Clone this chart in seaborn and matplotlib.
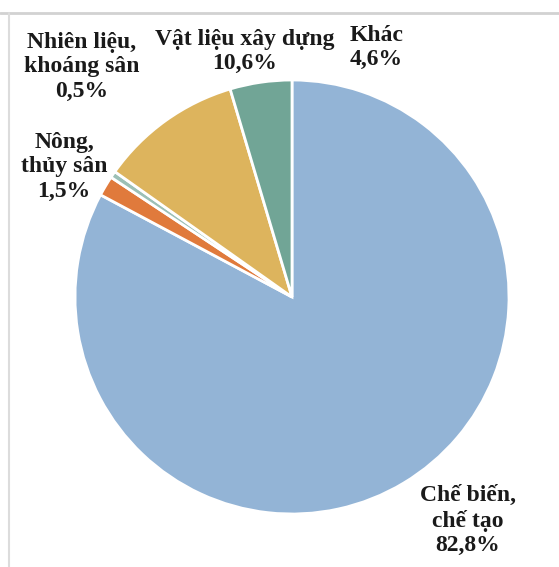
import matplotlib
matplotlib.use("Agg")
import matplotlib.pyplot as plt
from matplotlib.lines import Line2D
import seaborn as sns

# Cơ cấu theo ngành (%)
categories = ["Chế biến,\nchế tạo", "Nông,\nthủy sân", "Nhiên liệu,\nkhoáng sân",
              "Vật liệu xây dựng", "Khác"]
shares = [82.8, 1.5, 0.5, 10.6, 4.6]
colors = ["#93B4D6", "#E07A3C", "#9CC0B6", "#DDB45D", "#71A596"]

# Label anchor points (data units of the pie axes)
label_pos = [(0.81, -1.03), (-1.05, 0.60), (-0.97, 1.06), (-0.22, 1.13), (0.39, 1.15)]

sns.set_theme(style="white")
plt.rcParams["font.family"] = ["Liberation Serif", "DejaVu Serif"]

W, H = 559, 567
fig = plt.figure(figsize=(W / 100, H / 100), dpi=100)
fig.patch.set_facecolor("white")

cx, cy, r = 292, 297, 217
ax = fig.add_axes([(cx - r) / W, (H - cy - r) / H, 2 * r / W, 2 * r / H])

wedges, _ = ax.pie(shares, colors=colors, startangle=90, counterclock=False,
                   radius=1.0, wedgeprops=dict(edgecolor="white", linewidth=2.0))
for w in wedges:
    w.set_clip_on(False)
ax.set_xlim(-1, 1)
ax.set_ylim(-1, 1)
ax.set_aspect("auto")
ax.axis("off")

for name, val, (x, y) in zip(categories, shares, label_pos):
    txt = f"{name}\n{val:.1f}%".replace(".", ",")
    ax.text(x, y, txt, ha="center", va="center", fontsize=17, fontweight="bold",
            color="#1a1a1a", linespacing=1.2, clip_on=False)

# thin frame lines along the top and left
fig.add_artist(Line2D([0, 1], [1 - 13 / H, 1 - 13 / H], transform=fig.transFigure,
                      color="#d2d2d2", linewidth=2))
fig.add_artist(Line2D([9 / W, 9 / W], [0, 1 - 13 / H], transform=fig.transFigure,
                      color="#dcdcdc", linewidth=1.5))

fig.savefig("out.png", dpi=100)
